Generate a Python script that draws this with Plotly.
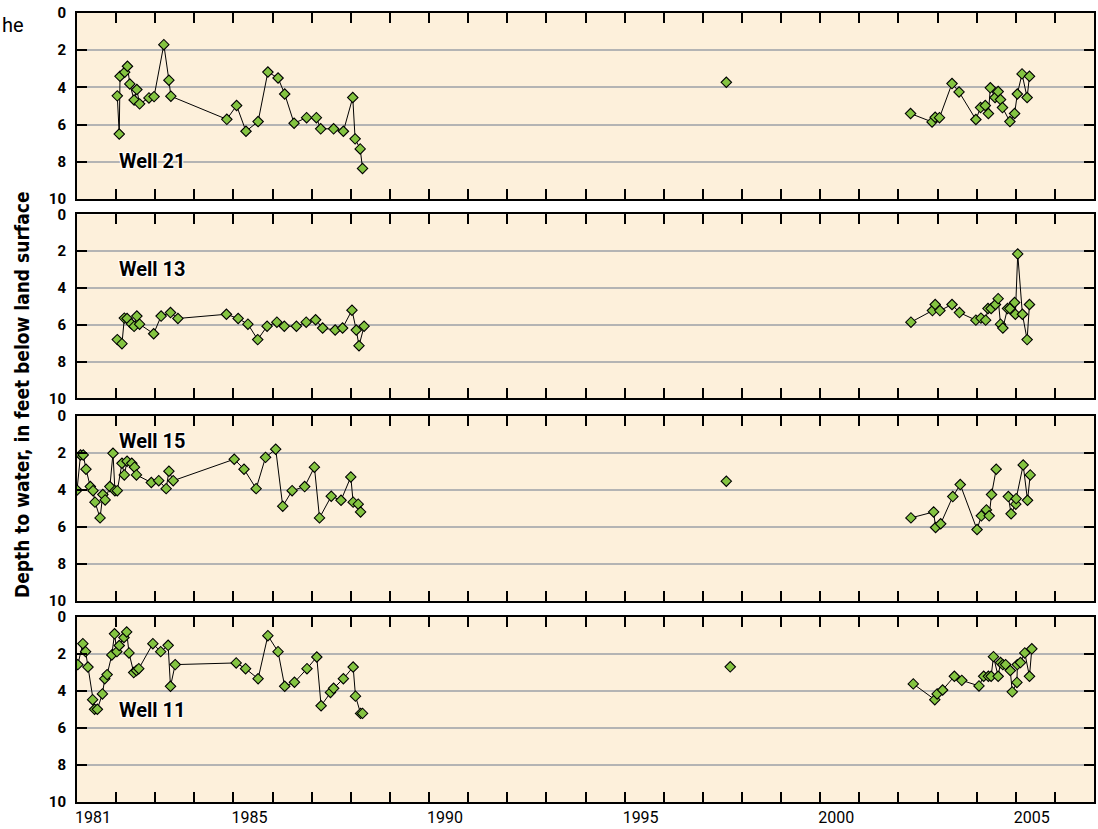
import plotly.graph_objects as go

# ---------------- data (decimal year, depth to water in feet) ----------------
well21_year = [1982.03, 1982.08, 1982.10, 1982.22, 1982.29, 1982.35, 1982.46, 1982.53, 1982.60,
               1982.84, 1982.97, 1983.22, 1983.35, 1983.40, 1984.83, 1985.08, 1985.32, 1985.63,
               1985.88, 1986.14, 1986.31, 1986.55, 1986.87, 1987.12, 1987.23, 1987.56, 1987.81,
               1988.05, 1988.11, 1988.24, 1988.30,
               None, 1997.60, None,
               2002.31, 2002.86, 2002.94, 2003.05, 2003.37, 2003.55, 2003.98, 2004.10, 2004.22,
               2004.30, 2004.35, 2004.47, 2004.55, 2004.61, 2004.66, 2004.85, 2004.97, 2005.04,
               2005.16, 2005.29, 2005.35]
well21_depth = [4.45, 6.50, 3.40, 3.18, 2.86, 3.81, 4.67, 4.11, 4.88,
                4.56, 4.49, 1.70, 3.61, 4.47, 5.71, 4.97, 6.35, 5.83,
                3.17, 3.49, 4.35, 5.92, 5.62, 5.62, 6.22, 6.22, 6.35,
                4.54, 6.76, 7.30, 8.35,
                None, 3.72, None,
                5.40, 5.85, 5.60, 5.62, 3.79, 4.24, 5.72, 5.08, 4.97,
                5.40, 4.02, 4.54, 4.22, 4.65, 5.08, 5.83, 5.40, 4.35,
                3.27, 4.54, 3.40]

well13_year = [1982.03, 1982.15, 1982.21, 1982.28, 1982.39, 1982.46, 1982.53, 1982.60, 1982.96,
               1983.15, 1983.39, 1983.58, 1984.82, 1985.12, 1985.37, 1985.62, 1985.86, 1986.11,
               1986.30, 1986.61, 1986.86, 1987.10, 1987.28, 1987.60, 1987.79, 1988.03, 1988.14,
               1988.21, 1988.34,
               None,
               2002.32, 2002.87, 2002.94, 2003.06, 2003.37, 2003.56, 2003.98, 2004.11, 2004.23,
               2004.29, 2004.37, 2004.48, 2004.55, 2004.61, 2004.67, 2004.79, 2004.85, 2004.97,
               2004.99, 2005.05, 2005.17, 2005.29, 2005.35]
well13_depth = [6.81, 7.03, 5.64, 5.66, 5.95, 6.09, 5.53, 5.97, 6.49,
                5.53, 5.34, 5.66, 5.43, 5.66, 5.97, 6.81, 6.08, 5.86,
                6.08, 6.08, 5.86, 5.73, 6.18, 6.29, 6.18, 5.21, 6.29,
                7.14, 6.08,
                None,
                5.86, 5.23, 4.90, 5.23, 4.90, 5.34, 5.75, 5.64, 5.75,
                5.12, 5.12, 4.90, 4.58, 5.97, 6.18, 5.12, 5.12, 4.79,
                5.43, 2.15, 5.43, 6.81, 4.90]

well15_year = [1981.00, 1981.09, 1981.16, 1981.23, 1981.34, 1981.41, 1981.46, 1981.59, 1981.66,
               1981.72, 1981.84, 1981.92, 1981.97, 1982.03, 1982.15, 1982.21, 1982.28, 1982.40,
               1982.47, 1982.52, 1982.90, 1983.09, 1983.28, 1983.35, 1983.46, 1985.02, 1985.27,
               1985.58, 1985.82, 1986.08, 1986.26, 1986.50, 1986.82, 1987.07, 1987.20, 1987.50,
               1987.75, 1988.00, 1988.06, 1988.19, 1988.25,
               None, 1997.60, None,
               2002.32, 2002.90, 2002.95, 2003.08, 2003.39, 2003.58, 2004.01, 2004.12, 2004.25,
               2004.32, 2004.38, 2004.50,
               None,
               2004.81, 2004.88, 2005.00, 2005.01, 2005.19, 2005.30, 2005.37]
well15_depth = [4.02, 2.12, 2.12, 2.89, 3.83, 4.05, 4.67, 5.52, 4.26,
                4.55, 3.83, 2.03, 4.05, 4.05, 2.57, 3.20, 2.46, 2.57,
                2.78, 3.20, 3.61, 3.51, 3.94, 3.00, 3.51, 2.35, 2.89,
                3.94, 2.25, 1.81, 4.89, 4.05, 3.83, 2.78, 5.52, 4.35,
                4.57, 3.31, 4.67, 4.78, 5.20,
                None, 3.54, None,
                5.52, 5.20, 6.04, 5.84, 4.37, 3.72, 6.15, 5.41, 5.09,
                5.41, 4.26, 2.89,
                None,
                4.37, 5.30, 4.78, 4.48, 2.66, 4.57, 3.20]

well11_year = [1981.02, 1981.15, 1981.22, 1981.28, 1981.40, 1981.45, 1981.52, 1981.65, 1981.71,
               1981.77, 1981.89, 1981.96, 1982.02, 1982.08, 1982.20, 1982.27, 1982.33, 1982.45,
               1982.52, 1982.58, 1982.94, 1983.14, 1983.33, 1983.39, 1983.51, 1985.07, 1985.31,
               1985.63, 1985.88, 1986.14, 1986.31, 1986.56, 1986.88, 1987.13, 1987.24, 1987.48,
               1987.56, 1987.81, 1988.06, 1988.12, 1988.25, 1988.30,
               None, 1997.70, None,
               2002.38, 2002.93, 2002.99, 2003.13, 2003.43, 2003.62, 2004.06, 2004.18, 2004.30,
               2004.37, 2004.43, 2004.55, 2004.61, 2004.67, 2004.74, 2004.86, 2004.91, 2005.03,
               2005.04, 2005.12, 2005.23, 2005.35, 2005.41]
well11_depth = [2.59, 1.46, 1.89, 2.72, 4.48, 5.00, 5.00, 4.17, 3.35,
                3.13, 2.07, 0.93, 1.89, 1.56, 1.13, 0.83, 1.96, 3.02,
                2.91, 2.81, 1.46, 1.89, 1.55, 3.76, 2.59, 2.50, 2.81,
                3.35, 1.03, 1.89, 3.76, 3.54, 2.81, 2.18, 4.81, 4.09,
                3.87, 3.35, 2.72, 4.29, 5.22, 5.22,
                None, 2.71, None,
                3.63, 4.48, 4.17, 3.96, 3.22, 3.44, 3.74, 3.22, 3.22,
                3.22, 2.16, 3.22, 2.48, 2.59, 2.59, 2.91, 4.06, 3.55,
                2.59, 2.48, 1.96, 3.22, 1.74]

well_names = ["Well 21", "Well 13", "Well 15", "Well 11"]
label_depth = [7.95, 2.97, 1.39, 5.05]          # depth at which each well label sits
label_year = [1982.03, 1982.03, 1982.03, 1982.03]

tick_years = list(range(1981, 2008))
tick_labels = [str(y) if y in (1981, 1985, 1990, 1995, 2000, 2005) else "" for y in tick_years]
depth_ticks = [0, 2, 4, 6, 8, 10]

series = [(well21_year, well21_depth), (well13_year, well13_depth),
          (well15_year, well15_depth), (well11_year, well11_depth)]

# ---------------- styling ----------------
FONT = "Roboto, Liberation Sans, sans-serif"
TITLE_FONT = "DejaVu Sans Condensed, DejaVu Sans, sans-serif"
BG = "#fdf0db"
GREEN = "#84c441"
domains = [(0.764, 1.0), (0.5117, 0.7447), (0.255, 0.4896), (0.0, 0.235)]

fig = go.Figure()
layout = dict(
    width=1098, height=829,
    margin=dict(l=77, r=2, t=13, b=27),
    paper_bgcolor="white", plot_bgcolor=BG,
    showlegend=False,
    font=dict(family=FONT, size=16, color="black"),
    annotations=[],
)

for i, (xs, ys) in enumerate(series):
    n = i + 1
    xa = "x" if n == 1 else f"x{n}"
    ya = "y" if n == 1 else f"y{n}"
    fig.add_trace(go.Scatter(
        x=xs, y=ys, xaxis=xa, yaxis=ya, mode="lines+markers",
        connectgaps=False,
        line=dict(color="black", width=1),
        marker=dict(symbol="diamond", size=8, color=GREEN,
                    line=dict(color="black", width=1.1)),
        hoverinfo="x+y",
    ))
    xkey = "xaxis" if n == 1 else f"xaxis{n}"
    ykey = "yaxis" if n == 1 else f"yaxis{n}"
    layout[xkey] = dict(
        domain=[0, 1], anchor=ya, range=[1981, 2007],
        tickmode="array", tickvals=tick_years, ticktext=tick_labels,
        ticks="inside", ticklen=10, tickwidth=1.5, tickcolor="black",
        showline=True, linewidth=2, linecolor="black", mirror="ticks",
        showgrid=False, zeroline=False,
        showticklabels=(n == 4), ticklabelshift=16,
        tickfont=dict(family=FONT, size=16, color="black"),
    )
    if n != 1:
        layout[xkey]["matches"] = "x"
    layout[ykey] = dict(
        domain=list(domains[i]), anchor=xa, range=[10, 0],
        tickmode="array", tickvals=depth_ticks,
        ticks="inside", ticklen=10, tickwidth=1.5, tickcolor="black",
        showline=True, linewidth=2, linecolor="black", mirror="ticks",
        showgrid=True, gridcolor="#b4b4b4", gridwidth=1.5, zeroline=False,
        ticklabelstandoff=6,
        tickfont=dict(family=FONT, size=15, color="black", weight="bold"),
    )
    layout["annotations"].append(dict(
        xref=xa, yref=ya, x=label_year[i], y=label_depth[i],
        text=well_names[i], showarrow=False, xanchor="left", yanchor="middle",
        font=dict(family=FONT, size=20, color="black", weight="bold",
                  shadow="white 1px 1px 0px, white -1px -1px 0px, white 1px -1px 0px, white -1px 1px 0px"),
    ))

layout["annotations"].append(dict(
    xref="paper", yref="paper", x=-0.054, y=0.516,
    text="Depth to water, in feet below land surface", textangle=-90,
    showarrow=False, xanchor="center", yanchor="middle",
    font=dict(family=TITLE_FONT, size=19, color="black", weight="bold"),
))
layout["annotations"].append(dict(
    xref="paper", yref="paper", x=-0.0756, y=0.985,
    text="he", showarrow=False, xanchor="left", yanchor="middle",
    font=dict(family=FONT, size=20, color="black"),
))

fig.update_layout(**layout)
fig.write_html("out.html", config={"displayModeBar": False},
               post_script="document.body.style.margin='0px';")
